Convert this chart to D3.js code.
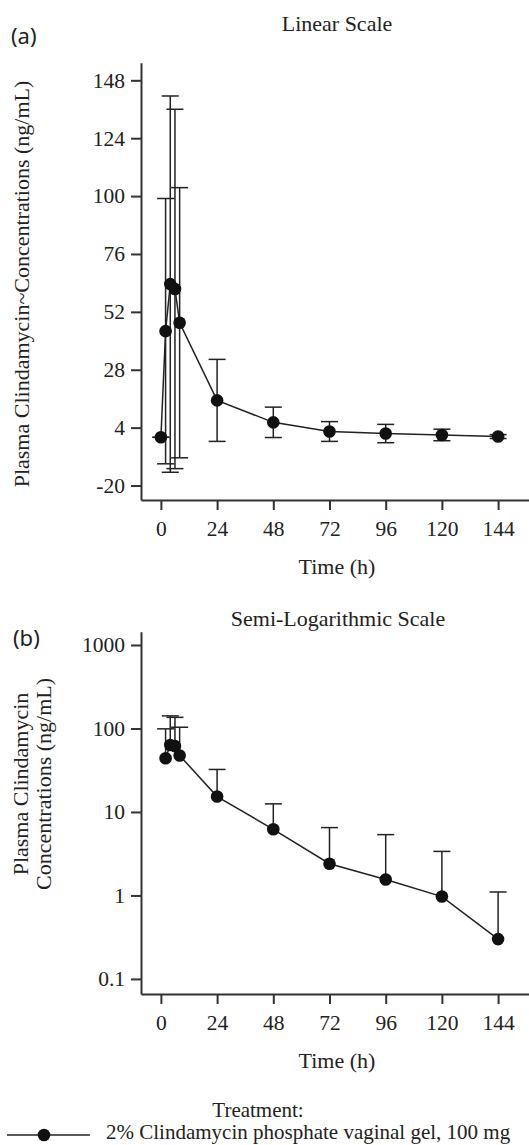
<!doctype html>
<html lang="en">
  <head>
    <meta charset="UTF-8" />
    <title>Plasma Clindamycin Concentrations</title>
    <script src="https://d3js.org/d3.v7.min.js"></script>
    <style>
      body {
        margin: 0;
        padding: 0;
        background: #fff;
      }
      svg text {
        font-family: 'Liberation Serif', 'Times New Roman', serif;
        fill: #222;
      }
      .tick text {
        font-size: 21.5px;
      }
      .axis path,
      .axis line {
        stroke: #333;
        stroke-width: 2;
      }
      .panel-tag {
        font-family: 'Noto Sans', sans-serif !important;
        font-size: 22px;
      }
      .title,
      .axis-label {
        font-size: 22px;
      }
      .legend-text {
        font-size: 21px;
      }
    </style>
  </head>
  <body>
    <div id="chart"></div>
    <script>
      // Sampling times (h)
      const times = [0, 2, 4, 6, 8, 24, 48, 72, 96, 120, 144]
      // Mean plasma clindamycin concentrations (ng/mL)
      const means = [0, 44, 63.5, 61.5, 47.5, 15.3, 6.2, 2.4, 1.55, 0.97, 0.3]
      // Standard deviations (ng/mL)
      const sds = [0, 55, 78, 74.5, 56, 17, 6.3, 4.1, 3.8, 2.4, 0.8]

      const xTicks = [0, 24, 48, 72, 96, 120, 144]
      const linTicks = [-20, 4, 28, 52, 76, 100, 124, 148]
      const logTicks = [0.1, 1, 10, 100, 1000]

      const data = times.map((t, i) => ({ t, mean: means[i], sd: sds[i] }))

      const W = 529
      const H = 1145

      const svg = d3.select('#chart').append('svg').attr('width', W).attr('height', H)

      const x = d3.scaleLinear().domain([-8.5, 157.2]).range([141, 529])

      function drawXAxis(g, yPos) {
        g.append('g')
          .attr('class', 'axis')
          .attr('transform', `translate(0, ${yPos})`)
          .call(d3.axisBottom(x).tickValues(xTicks).tickSize(10).tickSizeOuter(0).tickPadding(11))
      }

      // ---------- (a) Linear scale ----------
      const yLin = d3.scaleLinear().domain([-26, 155.3]).range([500, 62.7])
      const gA = svg.append('g')

      gA.append('g')
        .attr('class', 'axis')
        .attr('transform', 'translate(141, 0)')
        .call(
          d3
            .axisLeft(yLin)
            .tickValues(linTicks)
            .tickFormat((d) => String(d))
            .tickSize(10)
            .tickSizeOuter(0)
            .tickPadding(6)
        )
      drawXAxis(gA, 500)

      gA.append('text').attr('class', 'panel-tag').attr('x', 11).attr('y', 44).text('(a)')
      gA.append('text')
        .attr('class', 'title')
        .attr('x', 337)
        .attr('y', 31)
        .attr('text-anchor', 'middle')
        .text('Linear Scale')
      gA.append('text')
        .attr('class', 'axis-label')
        .attr('x', 337)
        .attr('y', 574)
        .attr('text-anchor', 'middle')
        .text('Time (h)')
      gA.append('text')
        .attr('class', 'axis-label')
        .attr('transform', 'translate(29, 284) rotate(-90)')
        .attr('text-anchor', 'middle')
        .text('Plasma Clindamycin~Concentrations (ng/mL)')

      // error bars (both directions)
      const ebA = gA.append('g').attr('stroke', '#222').attr('stroke-width', 1.5)
      data.forEach((d) => {
        const cx = x(d.t)
        const y1 = yLin(d.mean + d.sd)
        const y2 = yLin(d.mean - d.sd)
        ebA.append('line').attr('x1', cx).attr('x2', cx).attr('y1', y1).attr('y2', y2)
        ebA.append('line').attr('x1', cx - 8.5).attr('x2', cx + 8.5).attr('y1', y1).attr('y2', y1)
        ebA.append('line').attr('x1', cx - 8.5).attr('x2', cx + 8.5).attr('y1', y2).attr('y2', y2)
      })

      gA.append('path')
        .datum(data)
        .attr('fill', 'none')
        .attr('stroke', '#222')
        .attr('stroke-width', 1.5)
        .attr('d', d3.line().x((d) => x(d.t)).y((d) => yLin(d.mean)))

      gA.selectAll('.dotA')
        .data(data)
        .join('circle')
        .attr('cx', (d) => x(d.t))
        .attr('cy', (d) => yLin(d.mean))
        .attr('r', 6.3)
        .attr('fill', '#111')

      // ---------- (b) Semi-log scale ----------
      const logData = data.filter((d) => d.mean > 0)
      const yLog = d3.scaleLog().domain([0.066, 1443]).range([994, 631.7])
      const gB = svg.append('g')

      gB.append('g')
        .attr('class', 'axis')
        .attr('transform', 'translate(141, 0)')
        .call(
          d3
            .axisLeft(yLog)
            .tickValues(logTicks)
            .tickFormat((d) => String(d))
            .tickSize(10)
            .tickSizeOuter(0)
            .tickPadding(6)
        )
      drawXAxis(gB, 994)

      gB.append('text').attr('class', 'panel-tag').attr('x', 13).attr('y', 646).text('(b)')
      gB.append('text')
        .attr('class', 'title')
        .attr('x', 338)
        .attr('y', 626)
        .attr('text-anchor', 'middle')
        .text('Semi-Logarithmic Scale')
      gB.append('text')
        .attr('class', 'axis-label')
        .attr('x', 337)
        .attr('y', 1068)
        .attr('text-anchor', 'middle')
        .text('Time (h)')
      gB.append('text')
        .attr('class', 'axis-label')
        .attr('transform', 'translate(28, 784) rotate(-90)')
        .attr('text-anchor', 'middle')
        .text('Plasma Clindamycin')
      gB.append('text')
        .attr('class', 'axis-label')
        .attr('transform', 'translate(51, 784) rotate(-90)')
        .attr('text-anchor', 'middle')
        .text('Concentrations (ng/mL)')

      // upper error bars only
      const ebB = gB.append('g').attr('stroke', '#222').attr('stroke-width', 1.5)
      logData.forEach((d) => {
        const cx = x(d.t)
        const y1 = yLog(d.mean + d.sd)
        const y0 = yLog(d.mean)
        ebB.append('line').attr('x1', cx).attr('x2', cx).attr('y1', y1).attr('y2', y0)
        ebB.append('line').attr('x1', cx - 8.5).attr('x2', cx + 8.5).attr('y1', y1).attr('y2', y1)
      })

      gB.append('path')
        .datum(logData)
        .attr('fill', 'none')
        .attr('stroke', '#222')
        .attr('stroke-width', 1.5)
        .attr('d', d3.line().x((d) => x(d.t)).y((d) => yLog(d.mean)))

      gB.selectAll('.dotB')
        .data(logData)
        .join('circle')
        .attr('cx', (d) => x(d.t))
        .attr('cy', (d) => yLog(d.mean))
        .attr('r', 6.3)
        .attr('fill', '#111')

      // ---------- Legend ----------
      const legend = svg.append('g')
      legend
        .append('text')
        .attr('class', 'legend-text')
        .attr('x', 258)
        .attr('y', 1117)
        .attr('text-anchor', 'middle')
        .text('Treatment:')
      legend
        .append('line')
        .attr('x1', 7)
        .attr('x2', 90)
        .attr('y1', 1135)
        .attr('y2', 1135)
        .attr('stroke', '#222')
        .attr('stroke-width', 1.5)
      legend.append('circle').attr('cx', 44).attr('cy', 1135).attr('r', 6.3).attr('fill', '#111')
      legend
        .append('text')
        .attr('class', 'legend-text')
        .attr('x', 106)
        .attr('y', 1139)
        .text('2% Clindamycin phosphate vaginal gel, 100 mg')
    </script>
  </body>
</html>
